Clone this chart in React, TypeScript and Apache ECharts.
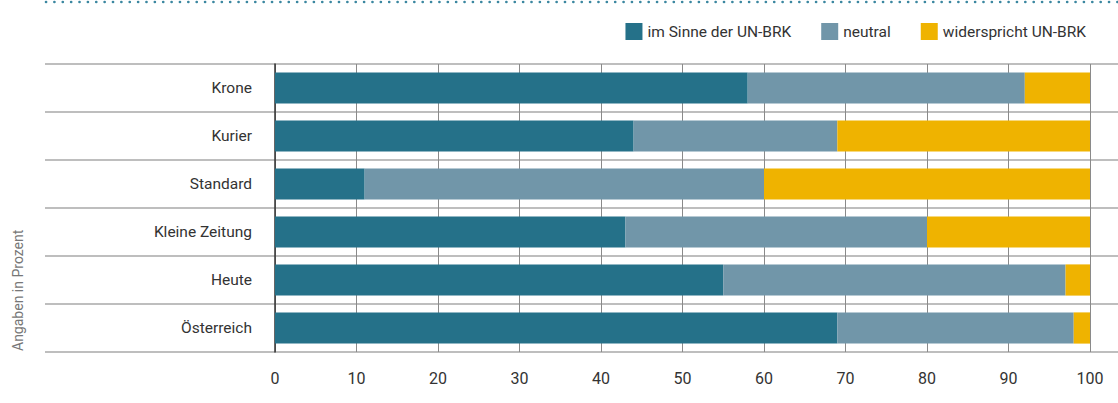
import React, { useEffect, useRef } from "react";
import * as echarts from "echarts";

const categories = ["Krone", "Kurier", "Standard", "Kleine Zeitung", "Heute", "Österreich"];
const seriesNames = ["im Sinne der UN-BRK", "neutral", "widerspricht UN-BRK"];
const imSinne = [58, 44, 11, 43, 55, 69];
const neutral = [34, 25, 49, 37, 42, 29];
const widerspricht = [8, 31, 40, 20, 3, 2];
const colors = ["#257189", "#7196a9", "#efb300"];
const axisTitle = "Angaben in Prozent";

const FONT = "Roboto, 'DejaVu Sans Condensed', sans-serif";

export default function App() {
  const ref = useRef<HTMLDivElement>(null);
  useEffect(() => {
    if (!ref.current) return;
    const chart = echarts.init(ref.current, undefined, { renderer: "svg" });
    const values = [imSinne, neutral, widerspricht];
    chart.setOption({
      animation: false,
      textStyle: { fontFamily: FONT },
      legend: {
        right: 27,
        top: 18,
        itemWidth: 17,
        itemHeight: 17,
        itemGap: 30,
        icon: "rect",
        textStyle: { fontFamily: FONT, fontSize: 15.5, color: "#333" },
        data: seriesNames,
      },
      grid: [
        { left: 275, right: 28, top: 64, bottom: 51 },
        { left: 45, right: 0, top: 64, bottom: 51 },
      ],
      xAxis: [
        {
          gridIndex: 0,
          type: "value",
          min: 0,
          max: 100,
          interval: 10,
          axisLine: { show: false },
          axisTick: { show: false },
          axisLabel: { fontFamily: FONT, fontSize: 16, color: "#333", margin: 18 },
          splitLine: { show: true, lineStyle: { color: "#8a8a8a", width: 1 } },
        },
        { gridIndex: 1, type: "value", show: false, min: 0, max: 1 },
      ],
      yAxis: [
        {
          gridIndex: 0,
          type: "category",
          data: categories,
          inverse: true,
          axisLine: { show: true, lineStyle: { color: "#333", width: 1.5 } },
          axisTick: { show: false },
          axisLabel: { fontFamily: FONT, fontSize: 15.5, color: "#333", margin: 23 },
          splitLine: { show: false },
        },
        {
          gridIndex: 1,
          type: "category",
          data: categories,
          inverse: true,
          axisLine: { show: false },
          axisTick: { show: false },
          axisLabel: { show: false },
          splitLine: { show: true, lineStyle: { color: "#a8a8a8", width: 1.5 } },
        },
      ],
      graphic: [
        {
          type: "line",
          shape: { x1: 46, y1: 2, x2: 1118, y2: 2 },
          style: { stroke: "#3b87a0", lineWidth: 2.6, lineDash: [0.1, 8.27], lineCap: "round" },
        },
        {
          type: "text",
          x: 18,
          y: 351,
          rotation: Math.PI / 2,
          style: {
            text: axisTitle,
            fill: "#777",
            fontFamily: FONT,
            fontSize: 14,
            textAlign: "left",
            textVerticalAlign: "middle",
          },
        },
      ],
      series: seriesNames.map((name, i) => ({
        name,
        type: "bar",
        stack: "total",
        xAxisIndex: 0,
        yAxisIndex: 0,
        barWidth: "65%",
        itemStyle: { color: colors[i] },
        data: values[i],
      })),
    });
    return () => chart.dispose();
  }, []);
  return (
    <div
      ref={ref}
      style={{ position: "fixed", left: 0, top: 0, width: 1118, height: 403, background: "#fff" }}
    />
  );
}
